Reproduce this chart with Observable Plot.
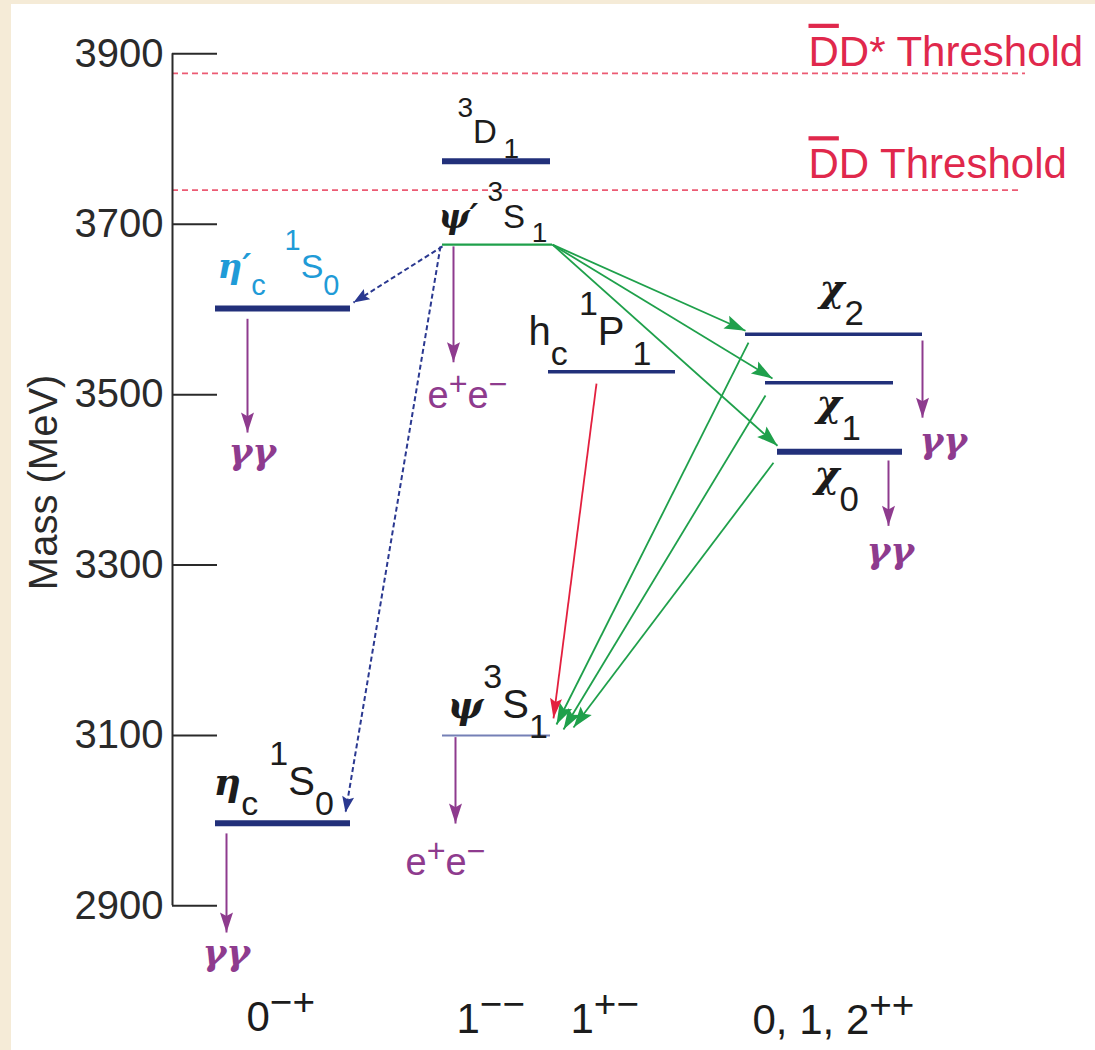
<!DOCTYPE html>
<html><head><meta charset="utf-8">
<script src="https://cdn.jsdelivr.net/npm/d3@7"></script>
<script src="https://cdn.jsdelivr.net/npm/@observablehq/plot@0.6"></script>
<style>
html,body{margin:0;padding:0;background:#f5ebd7;width:1095px;height:1050px;overflow:hidden;}
#wrap{position:absolute;left:11px;top:4px;width:1084px;height:1046px;background:#fff;}
svg text{white-space:pre;}
</style></head><body><div id="wrap"></div>
<script>
// ---------------- DATA ----------------
// y-axis ticks (MeV)
const massTicks = [2900, 3100, 3300, 3500, 3700, 3900];

// charmonium levels: mass (MeV), horizontal extent in diagram units, kind
const levelState = ["etac2S", "etac", "psi3770", "psi2S", "psi", "hc", "chic2", "chic1", "chic0"];
const levelMass  = [3601, 2997, 3774, 3676, 3100, 3527, 3571, 3514, 3433];
const levelX1    = [2.15, 2.15, 4.42, 4.42, 4.42, 5.48, 7.45, 7.65, 7.77];
const levelX2    = [3.50, 3.50, 5.50, 5.52, 5.50, 6.75, 9.22, 8.93, 9.02];
const levelKind  = ["strong", "strong", "strong", "psiPrime", "psi", "medium", "medium", "medium", "strong"];

// open-charm thresholds
const thresholdName = ["DbarDstar", "DbarD"];
const thresholdMass = [3877, 3740];
const thresholdX2   = [10.25, 10.18];

// transitions (from x, from mass) -> (to x, to mass)
const trName  = ["etac2S>gg", "etac>gg", "psi2S>ee", "psi>ee", "chic2>gg", "chic0>gg",
                 "psi2S>etac2S", "psi2S>etac",
                 "psi2S>chic2", "psi2S>chic1", "psi2S>chic0",
                 "chic2>psi", "chic1>psi", "chic0>psi", "hc>psi"];
const trX1    = [2.47, 2.26, 4.53, 4.55, 9.22, 8.88, 4.42, 4.40, 5.52, 5.52, 5.52, 7.48, 7.65, 7.73, 5.96];
const trM1    = [3589, 2985, 3674, 3098, 3563.5, 3422.7, 3674, 3674, 3676, 3676, 3676, 3561, 3499, 3420, 3513];
const trX2    = [2.47, 2.26, 4.53, 4.55, 9.22, 8.88, 3.53, 3.45, 7.45, 7.72, 7.77, 5.56, 5.63, 5.73, 5.53];
const trM2    = [3455.5, 2868.7, 3538, 2996.6, 3473, 3346, 3608, 3009.5, 3575, 3519, 3440, 3112.8, 3107, 3109.3, 3120];
const trKind  = ["decay", "decay", "decay", "decay", "decay", "decay", "m1", "m1",
                 "e1", "e1", "e1", "e1", "e1", "e1", "e1red"];

// text labels (markup: ^{sup} _{sub} ~{overline})
const labelText = [
  "η′_{c}\u00A0\u00A0^{1}S_{0}", "η_{c}\u00A0^{1}S_{0}", "^{3}D\u2009_{1}", "ψ′\u00A0^{3}S\u2009_{1}",
  "h_{c}\u00A0^{1}P\u2009_{1}", "ψ^{3}S_{1}", "χ_{2}", "χ_{1}", "χ_{0}",
  "γγ", "γγ", "γγ", "γγ", "e^{+}e^{−}", "e^{+}e^{−}",
  "0^{−+}", "1^{−−}", "1^{+−}", "0, 1, 2^{++}",
  "~{D}D* Threshold", "~{D}D Threshold"
];
const labelX    = [2.17, 2.13, 4.57, 4.38, 5.28, 4.47, 8.19, 8.16, 8.14,
                   2.28, 2.02, 9.19, 8.66, 4.27, 4.05,
                   2.46, 4.56, 5.70, 7.52, 8.08, 8.08];
const labelMass = [3637, 3029.5, 3795, 3696, 3558, 3120, 3610, 3475.5, 3391,
                   3419, 2830, 3432, 3302, 3484, 2936,
                   2753.6, 2751, 2751, 2750, 3886, 3754];
const labelKind = ["levelCyan", "level", "levelSmall", "levelSmall", "level", "level", "chi", "chi", "chi",
                   "decay", "decay", "decay", "decay", "decay", "decay",
                   "jpc", "jpc", "jpc", "jpc", "threshold", "threshold"];

const axisLabel = "Mass (MeV)";
const axisLabelMass = 3397;

// ---------------- STYLES ----------------
const axisX = 1.72;      // x position of the mass axis (diagram units)
const tickLen = 0.45;    // tick length (diagram units)
const NAVY = "#22307a", GREEN = "#1fa04b", PURPLE = "#8e3b8e", RED = "#e3203f";
const levelStyles = {
  strong:   {stroke: NAVY, width: 6},
  medium:   {stroke: NAVY, width: 3.5},
  psiPrime: {stroke: GREEN, width: 2.2},
  psi:      {stroke: "#7580b6", width: 2}
};
const trStyles = {
  decay: {stroke: PURPLE, width: 2, dash: null},
  m1:    {stroke: "#2a3890", width: 2, dash: "5,3"},
  e1:    {stroke: GREEN, width: 1.8, dash: null},
  e1red: {stroke: RED, width: 1.8, dash: null}
};
const headSize = {};
headSize[PURPLE] = [20, 6.5];
headSize["#2a3890"] = [16, 6];
headSize[GREEN] = [21, 7];
headSize[RED] = [20, 6];
const GREEK_FONT = "'DejaVu Serif', 'Liberation Serif', serif";
const labelStyles = {
  levelCyan:  {size: 34, fill: "#1f9bd7", sup: 0.82, sub: 0.5, script: 0.85, greek: 1.0},
  level:      {size: 40, fill: "#1c1c1c", sup: 0.76, sub: 0.5, script: 0.85, greek: 0.95},
  levelSmall: {size: 33, fill: "#1c1c1c", sup: 0.8, sub: 0.45, script: 0.85, greek: 1.0},
  chi:        {size: 40, fill: "#1c1c1c", sup: 0.8, sub: 0.6, script: 0.87, greek: 0.95},
  decay:      {size: 38, fill: PURPLE, sup: 0.35, sub: 0.4, script: 0.85, greek: 0.95},
  jpc:        {size: 42, fill: "#1c1c1c", sup: 0.38, sub: 0.4, script: 0.92, greek: 1},
  threshold:  {size: 42, fill: "#e0284c", sup: 0.4, sub: 0.4, script: 0.75, greek: 1}
};

// ---------------- BUILD ----------------
const levels = levelState.map((s, i) => ({state: s, mass: levelMass[i], x1: levelX1[i], x2: levelX2[i], kind: levelKind[i]}));
const thresholds = thresholdName.map((s, i) => ({name: s, mass: thresholdMass[i], x2: thresholdX2[i]}));
const transitions = trName.map((s, i) => ({name: s, x1: trX1[i], m1: trM1[i], x2: trX2[i], m2: trM2[i], kind: trKind[i]}));
const labels = labelText.map((t, i) => ({text: t, x: labelX[i], mass: labelMass[i], kind: labelKind[i]}));

const plot = Plot.plot({
  width: 1084, height: 1046,
  marginLeft: 161, marginRight: 0, marginTop: 0, marginBottom: 0,
  style: {fontFamily: "'Liberation Sans', Arial, Helvetica, sans-serif", fontSize: "40px", color: "#2a2a2a", background: "white", overflow: "visible"},
  x: {domain: [axisX, 10.95], axis: null},
  y: {domain: [2730.2, 3957.9]},
  marks: [
    // thresholds
    Plot.ruleY(thresholds, {y: "mass", x1: axisX, x2: "x2", stroke: "#ec5a73", strokeWidth: 1.8, strokeDasharray: "6,4"}),
    // axis
    Plot.ruleX([axisX], {y1: d3.min(massTicks), y2: d3.max(massTicks), stroke: "#2a2a2a", strokeWidth: 2}),
    Plot.ruleY(massTicks, {x1: axisX, x2: axisX + tickLen, stroke: "#2a2a2a", strokeWidth: 2}),
    Plot.axisY(massTicks, {anchor: "left", tickSize: 0, tickPadding: 9, label: null, fontSize: 40, tickFormat: d => `${d}`}),
    Plot.text([{t: axisLabel, m: axisLabelMass}], {frameAnchor: "left", dx: -128, y: "m", text: "t", rotate: -90, textAnchor: "middle", lineAnchor: "middle", fontSize: 40, fill: "#2a2a2a"}),
    // transitions
    ...Object.keys(trStyles).map(k => Plot.link(transitions.filter(d => d.kind === k), {
      x1: "x1", y1: "m1", x2: "x2", y2: "m2",
      stroke: trStyles[k].stroke, strokeWidth: trStyles[k].width,
      strokeDasharray: trStyles[k].dash, markerEnd: "arrow"
    })),
    // levels
    ...Object.keys(levelStyles).map(k => Plot.ruleY(levels.filter(d => d.kind === k), {
      y: "mass", x1: "x1", x2: "x2", stroke: levelStyles[k].stroke, strokeWidth: levelStyles[k].width
    })),
    // labels
    ...Object.keys(labelStyles).map(k => Plot.text(labels.filter(d => d.kind === k), {
      x: "x", y: "mass", text: "text", textAnchor: "start", lineAnchor: "bottom",
      fontSize: labelStyles[k].size, fill: labelStyles[k].fill, ariaDescription: k
    }))
  ]
});
document.getElementById("wrap").appendChild(plot);

// ---------- rich text (sup/sub/overline, Greek in serif bold italic) ----------
const GREEK = /[\u0370-\u03FF\u2032]/;
function richify(textEl, st) {
  const src = textEl.textContent;
  if (!/[\^_~]/.test(src) && !GREEK.test(src)) return;
  const fs = st.size;
  while (textEl.firstChild) textEl.removeChild(textEl.firstChild);
  const re = /\^\{([^}]*)\}|_\{([^}]*)\}|~\{([^}]*)\}|([^\^_~]+)/g;
  let cur = 0, m;
  const NS = "http://www.w3.org/2000/svg";
  while ((m = re.exec(src))) {
    let txt, shift = 0, size = fs, over = false;
    if (m[1] !== undefined) { txt = m[1]; shift = -st.sup * fs; size = fs * st.script; }
    else if (m[2] !== undefined) { txt = m[2]; shift = st.sub * fs; size = fs * st.script; }
    else if (m[3] !== undefined) { txt = m[3]; over = true; }
    else txt = m[4];
    const runs = txt.match(/[\u0370-\u03FF\u2032]+|[^\u0370-\u03FF\u2032]+/g) || [];
    for (const run of runs) {
      const t = document.createElementNS(NS, "tspan");
      const greek = GREEK.test(run);
      t.setAttribute("font-size", (greek ? size * st.greek : size).toFixed(2));
      if (shift !== cur) { t.setAttribute("dy", (shift - cur).toFixed(2)); cur = shift; }
      if (greek) {
        t.setAttribute("font-family", GREEK_FONT);
        t.setAttribute("font-weight", "bold");
        t.setAttribute("font-style", "italic");
      }
      if (over) t.setAttribute("text-decoration", "overline");
      t.textContent = run;
      textEl.appendChild(t);
    }
  }
}
plot.querySelectorAll("g[aria-description]").forEach(g => {
  const st = labelStyles[g.getAttribute("aria-description")];
  if (!st) return;
  g.querySelectorAll("text").forEach(t => richify(t, st));
});

// ---------- filled arrowheads ----------
plot.querySelectorAll("marker").forEach(mk => {
  const c = mk.getAttribute("stroke");
  const [L, W] = headSize[c] || [18, 6];
  mk.setAttribute("viewBox", `${-L - 1} ${-W - 1} ${L + 2} ${2 * W + 2}`);
  mk.setAttribute("markerWidth", L + 2);
  mk.setAttribute("markerHeight", 2 * W + 2);
  mk.setAttribute("markerUnits", "userSpaceOnUse");
  mk.setAttribute("refX", 0);
  mk.setAttribute("refY", 0);
  mk.setAttribute("stroke", "none");
  mk.setAttribute("fill", c);
  const p = mk.querySelector("path");
  if (p) {
    p.setAttribute("d", `M0,0L${-L},${-W}L${-L * 0.82},0L${-L},${W}Z`);
    p.setAttribute("fill", c);
    p.setAttribute("stroke", "none");
  }
});
</script></body></html>
